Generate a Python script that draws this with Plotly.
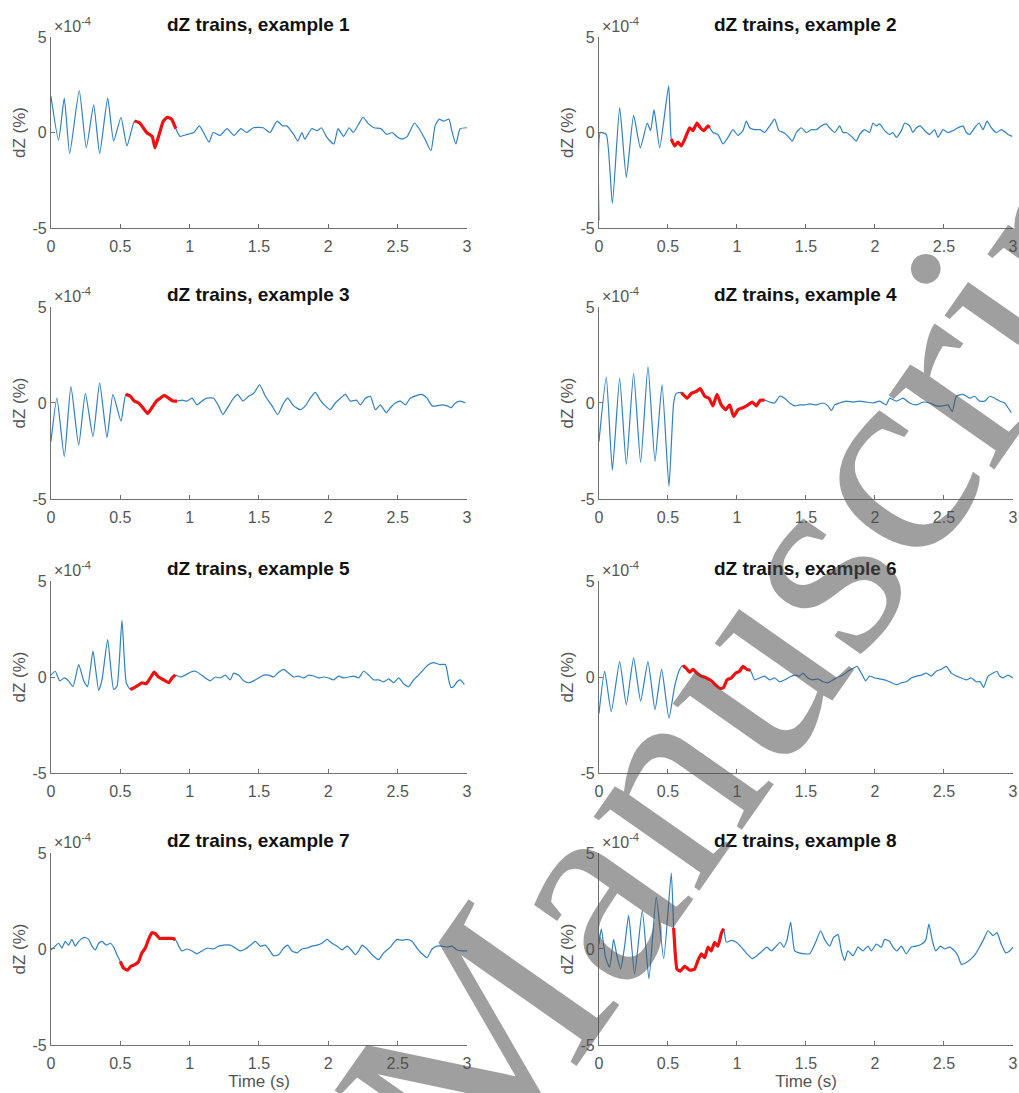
import plotly.graph_objects as go

# ---------------- data (dZ in units of 1e-4 %, time in s) ----------------
t1 = [0.000,0.055,0.096,0.135,0.204,0.255,0.308,0.351,0.409,0.452,0.505,0.548,0.603,0.64,0.69,0.73,0.75,0.78,0.81,0.84,0.87,0.90,
      0.93,0.98,1.03,1.07,1.10,1.14,1.17,1.22,1.27,1.32,1.37,1.41,1.46,1.53,1.58,1.63,1.67,1.70,1.75,1.78,1.81,1.83,1.88,1.92,
      1.95,1.99,2.04,2.07,2.11,2.15,2.18,2.22,2.25,2.29,2.33,2.38,2.42,2.46,2.50,2.53,2.57,2.62,2.65,2.69,2.74,2.77,2.80,2.83,
      2.87,2.89,2.92,2.95,3.00]
v1 = [1.9,-0.4,1.8,-1.1,2.2,-0.8,1.45,-1.1,1.8,-0.45,0.8,-0.7,0.6,0.5,0.0,-0.2,-0.8,-0.1,0.6,0.8,0.7,0.2,
      -0.2,-0.1,0.0,0.35,0.0,-0.5,0.0,-0.15,0.2,-0.15,0.2,0.0,0.25,0.25,0.0,0.6,0.35,0.35,-0.1,-0.45,0.0,-0.35,0.2,0.1,
      0.25,-0.25,-0.6,0.2,-0.2,0.25,0.0,0.45,0.8,0.45,0.25,0.2,-0.1,0.0,-0.25,-0.35,-0.2,0.5,0.25,-0.25,-0.95,0.35,0.7,0.6,
      0.7,0.1,-0.6,0.2,0.25]
win1 = (0.603, 0.90)

t2 = [0.0,0.01,0.053,0.097,0.150,0.198,0.251,0.300,0.350,0.374,0.399,0.440,0.505,0.524,
      0.548,0.572,0.597,0.633,0.657,0.681,0.710,0.734,0.761,0.790,0.802,
      0.826,0.862,0.899,0.935,0.971,1.007,1.043,1.068,1.092,1.128,1.169,1.200,1.237,1.273,1.304,1.338,1.370,1.401,1.430,1.466,
      1.502,1.539,1.575,1.611,1.647,1.671,1.708,1.744,1.768,1.792,1.829,1.865,1.889,1.925,1.961,1.986,2.010,2.034,2.070,2.106,
      2.130,2.155,2.191,2.215,2.251,2.275,2.300,2.329,2.360,2.396,2.432,2.457,2.493,2.529,2.565,2.601,2.638,2.662,2.686,2.722,
      2.754,2.783,2.812,2.843,2.879,2.915,2.964,2.995]
v2 = [-4.6,0.0,-0.1,-3.7,1.3,-2.35,0.9,-0.8,0.5,0.1,1.2,-0.8,2.45,-0.35,
      -0.7,-0.5,-0.7,-0.15,0.25,0.1,0.5,0.25,0.1,0.35,0.25,
      0,-0.1,-0.6,-0.25,0.15,-0.15,0.1,0.6,0.25,0.15,0.15,0,0.35,0.7,0.1,0,-0.2,-0.45,0,0.25,
      0,0.15,0.15,0.35,0.45,0.25,0,0.35,0,0,-0.2,-0.45,-0.1,0.15,0,0.5,0.35,0.45,0.1,-0.1,
      0,-0.25,0.1,0.5,0.35,0,0.25,0.35,0.1,-0.1,0.15,-0.25,0.15,0,0.1,0.25,0.35,0,-0.1,0.25,
      0.5,0.15,0.6,0.25,0,0.15,-0.1,-0.2]
win2 = (0.524, 0.802)

t3 = [0.0,0.043,0.096,0.144,0.200,0.248,0.303,0.351,0.404,0.447,0.505,
      0.540,0.572,0.601,0.632,0.663,0.697,0.728,0.760,0.788,0.817,0.849,0.880,0.909,
      0.945,0.981,1.017,1.053,1.089,1.125,1.173,1.209,1.240,1.281,1.317,1.346,1.385,1.425,1.462,1.505,1.546,1.594,1.635,1.678,
      1.707,1.750,1.798,1.834,1.870,1.906,1.942,1.978,2.014,2.050,2.087,2.123,2.159,2.202,2.231,2.267,2.303,2.339,2.375,2.418,
      2.447,2.483,2.519,2.555,2.591,2.639,2.675,2.712,2.748,2.784,2.820,2.856,2.885,2.916,2.952,2.988]
v3 = [-2.0,0.25,-2.8,0.85,-2.2,0.5,-1.75,1.05,-1.8,0.45,-0.95,
      0.45,0.35,0.1,0.0,-0.25,-0.55,-0.25,0.1,0.25,0.4,0.25,0.1,0.1,
      0.15,0.1,0.25,-0.1,0.1,0.25,0.25,-0.15,-0.6,-0.15,0.25,0.45,0.1,0.35,0.5,0.95,0.35,-0.15,-0.6,0,
      0.25,-0.15,-0.35,-0.15,0.25,0.55,0.15,-0.15,-0.35,0,0.25,0.45,0.1,0.15,-0.1,0.25,0.35,-0.35,-0.1,-0.5,
      -0.25,0,0.1,-0.1,0.25,0.4,0.45,0.25,-0.15,-0.15,-0.1,-0.15,-0.25,0,0.1,0]
win3 = (0.540, 0.909)

t4 = [0.0,0.053,0.097,0.150,0.198,0.251,0.302,0.355,0.406,0.457,0.507,0.541,0.560,0.597,
      0.609,0.638,0.669,0.705,0.734,0.766,0.797,0.826,0.855,0.886,0.918,0.947,0.976,1.007,1.043,1.080,1.111,1.140,1.169,1.200,
      1.237,1.273,1.309,1.345,1.382,1.418,1.454,1.490,1.527,1.575,1.623,1.659,1.684,1.708,1.744,1.792,1.841,1.889,1.937,1.986,
      2.034,2.082,2.106,2.155,2.203,2.251,2.300,2.348,2.396,2.444,2.493,2.529,2.560,2.589,2.638,2.686,2.722,2.758,2.795,2.831,
      2.867,2.903,2.940,2.964,2.988]
v4 = [-2.0,1.35,-3.5,1.3,-3.2,1.55,-3.1,1.9,-3.05,0.95,-4.35,0.0,0.5,0.55,
      0.45,0.25,0.5,0.6,0.75,0.35,0.25,-0.15,0.45,-0.1,-0.35,-0.1,-0.7,-0.35,-0.25,-0.1,0.05,-0.15,0.15,0.15,
      0.05,0,0.35,0.25,0,-0.15,-0.1,-0.1,-0.05,-0.1,0,-0.15,-0.4,-0.1,0,0.1,0.05,0.1,0.05,0,
      0.1,-0.1,0.25,0.1,0.25,0,-0.1,0.05,0,-0.15,-0.15,-0.1,-0.45,0.35,0.45,0.25,0.35,0.1,0.1,0.35,
      0.25,0.1,0,-0.25,-0.5]
win4 = (0.597, 1.200)

t5 = [0.0,0.031,0.063,0.096,0.127,0.159,0.200,0.236,0.264,0.303,0.344,0.368,0.409,0.452,0.476,0.512,0.543,0.572,
      0.601,0.625,0.656,0.687,0.716,0.745,0.776,0.813,0.849,0.873,0.897,
      0.933,0.969,1.005,1.041,1.077,1.113,1.149,1.185,1.221,1.257,1.293,1.317,1.353,1.389,1.425,1.462,1.498,1.534,1.570,1.606,
      1.642,1.678,1.714,1.750,1.786,1.822,1.858,1.894,1.930,1.966,2.002,2.038,2.075,2.111,2.147,2.183,2.219,2.255,2.291,2.327,
      2.363,2.399,2.435,2.471,2.507,2.543,2.579,2.615,2.651,2.688,2.724,2.760,2.803,2.844,2.868,2.885,2.904,2.928,2.952,2.981]
v5 = [0.1,0.3,-0.2,-0.05,-0.2,-0.5,0.65,-0.2,-0.5,1.35,-0.7,-0.15,1.95,-0.65,-0.5,2.95,-0.3,-0.65,
      -0.55,-0.45,-0.3,-0.35,-0.05,0.25,0,-0.15,-0.3,-0.05,0.1,
      0,0.1,0.25,0.3,0.15,-0.05,-0.2,0,-0.05,0.1,-0.15,0.2,0.1,-0.2,-0.3,-0.2,-0.05,0.1,0.1,0,
      0.25,0.4,0.2,0,0.05,-0.05,0.1,0.05,-0.05,0,-0.05,-0.15,0.05,-0.05,0,0.05,-0.05,0.3,0.1,-0.15,
      -0.15,-0.25,-0.1,-0.3,-0.05,-0.35,-0.5,-0.15,0.1,0.4,0.65,0.75,0.65,0.65,-0.15,-0.55,-0.5,-0.25,-0.15,-0.4]
win5 = (0.572, 0.897)

t6 = [0.0,0.041,0.089,0.150,0.198,0.251,0.302,0.355,0.406,0.454,0.507,0.548,0.585,
      0.609,0.633,0.657,0.681,0.710,0.742,0.778,0.814,0.850,0.879,0.903,0.928,0.959,0.990,1.019,1.043,1.072,1.097,
      1.128,1.164,1.200,1.237,1.273,1.309,1.345,1.382,1.418,1.454,1.478,1.514,1.551,1.587,1.623,1.659,1.696,1.732,1.768,1.804,
      1.841,1.870,1.901,1.932,1.961,1.998,2.034,2.070,2.106,2.155,2.191,2.227,2.263,2.300,2.336,2.372,2.408,2.444,2.481,2.517,
      2.553,2.589,2.626,2.662,2.698,2.734,2.763,2.787,2.819,2.855,2.884,2.903,2.928,2.964,3.0]
v6 = [-1.9,0.3,-1.8,0.8,-1.45,1.0,-1.25,0.8,-1.7,0.4,-2.15,-0.5,0.4,
      0.6,0.45,0.25,0.4,0.2,0.05,-0.05,-0.2,-0.45,-0.6,-0.55,-0.15,-0.05,0.2,0.3,0.55,0.4,0.35,
      -0.15,-0.05,0.05,-0.15,-0.05,-0.25,-0.15,0,0.1,0.05,0.2,-0.05,-0.15,-0.1,-0.25,-0.3,-0.15,0,0.1,0.3,
      0.45,0.55,0.2,-0.2,0.05,-0.05,-0.1,-0.15,-0.25,-0.4,-0.3,-0.25,-0.05,0.05,0.1,0.2,0.05,0.3,0.4,0.55,
      0.2,0.05,-0.05,-0.15,-0.05,-0.25,-0.25,-0.55,0.05,0.2,0.3,0.05,-0.05,0.1,-0.05]
win6 = (0.609, 1.097)

t7 = [0.0,0.031,0.055,0.079,0.103,0.127,0.151,0.175,0.200,0.224,0.248,0.272,0.296,0.320,0.344,0.368,0.399,0.428,0.452,0.476,0.500,
      0.524,0.553,0.577,0.608,0.632,0.656,0.680,0.704,0.728,0.752,0.784,0.813,0.844,0.873,0.897,
      0.921,0.945,0.981,1.017,1.053,1.089,1.125,1.173,1.209,1.245,1.293,1.329,1.365,1.401,1.438,1.474,1.510,1.546,1.570,1.606,
      1.642,1.678,1.707,1.738,1.774,1.810,1.846,1.882,1.918,1.954,1.990,2.026,2.063,2.099,2.135,2.171,2.195,2.219,2.243,2.279,
      2.315,2.363,2.399,2.447,2.495,2.531,2.567,2.603,2.639,2.675,2.712,2.748,2.784,2.820,2.856,2.892,2.928,2.964,3.0]
v7 = [-0.05,0.15,0.3,0.05,0.4,0.2,0.5,0.15,0.4,0.55,0.6,0.5,0.15,-0.05,0.3,0.4,0.2,0.3,0.1,-0.3,-0.65,
      -1.0,-1.1,-0.9,-0.8,-0.65,-0.2,0.05,0.5,0.85,0.8,0.55,0.55,0.55,0.55,0.5,
      0.15,-0.1,0,-0.1,-0.25,-0.1,0.05,0,0.15,0.2,0.2,0.05,-0.1,0,0.2,0.4,0.15,0.2,0,-0.35,
      -0.3,0.05,0.2,-0.1,-0.2,0,0.05,0.15,0.2,0.3,0.5,0.3,0.15,-0.05,0.15,-0.1,-0.3,-0.1,0.2,0,
      -0.3,-0.55,-0.2,0.1,0.5,0.45,0.5,0.4,0.05,-0.25,-0.45,0,0.15,0.15,0.1,0.15,-0.05,-0.1,-0.1]
win7 = (0.500, 0.897)

t8 = [0.0,0.017,0.048,0.077,0.106,0.130,0.157,0.186,0.215,0.258,0.314,0.362,0.415,0.469,0.524,0.541,
      0.553,0.565,0.589,0.621,0.657,0.693,0.717,0.742,0.766,0.790,0.814,0.838,0.862,0.886,0.903,
      0.923,0.959,0.995,1.031,1.072,1.111,1.145,1.184,1.217,1.249,1.285,1.314,1.338,1.362,1.389,1.418,1.449,1.490,1.527,1.570,
      1.606,1.635,1.671,1.700,1.732,1.756,1.780,1.804,1.841,1.877,1.913,1.949,1.973,2.010,2.046,2.070,2.106,2.130,2.159,2.191,
      2.227,2.263,2.300,2.336,2.367,2.391,2.415,2.440,2.473,2.505,2.541,2.577,2.601,2.626,2.662,2.698,2.729,2.758,2.787,2.819,
      2.855,2.884,2.915,2.947,2.976,3.0]
v8 = [0.25,1.05,-0.45,-0.95,0.5,-0.35,-1.05,0.15,1.75,-1.3,2.0,-1.55,2.7,-0.5,3.95,1.1,
      -0.25,-1.05,-1.15,-0.9,-1.1,-1.05,-0.6,-0.25,-0.45,0.1,-0.1,0.35,0.15,0.8,1.05,
      0.35,0.45,0.35,0.1,-0.25,-0.5,-0.35,-0.1,0.1,-0.1,0.15,0.35,0.1,0.45,1.4,-0.1,-0.2,-0.25,-0.25,0.35,
      0.95,0.5,0.15,0.6,0.75,-0.1,-0.6,-0.1,-0.35,0.1,-0.1,0.15,-0.1,0.25,0.1,0.5,0.4,0.1,-0.1,0.15,
      -0.25,0.1,0.15,0.25,0.45,1.3,0.45,-0.1,0.15,0,0.1,-0.1,-0.35,-0.8,-0.7,-0.5,-0.25,0.1,0.5,0.95,
      0.7,0.85,0.25,-0.2,-0.1,0.1]
win8 = (0.541, 0.903)

times = [t1, t2, t3, t4, t5, t6, t7, t8]
values = [v1, v2, v3, v4, v5, v6, v7, v8]
windows = [win1, win2, win3, win4, win5, win6, win7, win8]
titles = ["dZ trains, example %d" % i for i in range(1, 9)]

x_tickvals = [0, 0.5, 1, 1.5, 2, 2.5, 3]
x_ticktext = ["0", "0.5", "1", "1.5", "2", "2.5", "3"]
y_tickvals = [-5, 0, 5]
y_ticktext = ["-5", "0", "5"]
y_exponent = "\u00d710<sup>-4</sup>"
x_label = "Time (s)"
y_label = "dZ (%)"
watermark = "Manuscript"

# ---------------- layout geometry ----------------
W, H = 1019, 1093
col_dom = [[0.0500, 0.4583], [0.5878, 0.9941]]
row_dom = [[0.7914, 0.9661], [0.5435, 0.7191], [0.2928, 0.4684], [0.0439, 0.2196]]

BLUE = "#2f80c4"
RED = "#ee1111"
AX = "#707070"
TXT = "#555555"
FONT = "Liberation Sans, Arial, sans-serif"

fig = go.Figure()
layout = dict(width=W, height=H, margin=dict(l=0, r=0, t=0, b=0),
              paper_bgcolor="white", plot_bgcolor="white", showlegend=False,
              template="none", font=dict(family=FONT, color=TXT))
annotations = []

for i in range(8):
    r, c = divmod(i, 2)
    n = i + 1
    xa = "x" if n == 1 else "x%d" % n
    ya = "y" if n == 1 else "y%d" % n
    t, v = times[i], values[i]
    w0, w1 = windows[i]
    fig.add_trace(go.Scatter(x=t, y=v, mode="lines", xaxis=xa, yaxis=ya,
                             line=dict(color=BLUE, width=1.2, shape="spline", smoothing=0.5),
                             hoverinfo="skip"))
    rt = [a for a in t if w0 - 1e-9 <= a <= w1 + 1e-9]
    rv = [b for a, b in zip(t, v) if w0 - 1e-9 <= a <= w1 + 1e-9]
    fig.add_trace(go.Scatter(x=rt, y=rv, mode="lines", xaxis=xa, yaxis=ya,
                             line=dict(color=RED, width=3.2, shape="spline", smoothing=0.4),
                             hoverinfo="skip"))
    bottom = (r == 3)
    layout["xaxis" + ("" if n == 1 else str(n))] = dict(
        domain=col_dom[c], anchor=ya, range=[0, 3], showline=True, linecolor=AX, linewidth=1,
        ticks="inside", ticklen=4, tickcolor=AX, tickvals=x_tickvals, ticktext=x_ticktext,
        tickfont=dict(size=16, color=TXT, family=FONT), ticklabelstandoff=4,
        showgrid=False, zeroline=False, mirror=False, automargin=False,
        title=dict(text=x_label if bottom else "", font=dict(size=17, color=TXT, family=FONT), standoff=3))
    layout["yaxis" + ("" if n == 1 else str(n))] = dict(
        domain=row_dom[r], anchor=xa, range=[-5, 5], showline=True, linecolor=AX, linewidth=1,
        ticks="inside", ticklen=4, tickcolor=AX, tickvals=y_tickvals, ticktext=y_ticktext,
        tickfont=dict(size=16, color=TXT, family=FONT), showgrid=False, zeroline=False,
        mirror=False, automargin=False,
        title=dict(text=y_label, font=dict(size=17, color=TXT, family=FONT), standoff=2))
    annotations.append(dict(text="<b>%s</b>" % titles[i], xref=xa + " domain", yref=ya + " domain",
                            x=0.5, y=1, xanchor="center", yanchor="bottom", yshift=0, showarrow=False,
                            font=dict(size=19, color="#111111", family=FONT)))
    annotations.append(dict(text=y_exponent, xref=xa + " domain", yref=ya + " domain",
                            x=0, y=1, xanchor="left", yanchor="bottom", xshift=1, yshift=0, showarrow=False,
                            font=dict(size=16, color=TXT, family=FONT)))

annotations.append(dict(text=watermark, xref="paper", yref="paper", x=770 / W, y=1 - 624 / H,
                        xanchor="center", yanchor="middle", textangle=-55, showarrow=False,
                        font=dict(size=281, color="rgba(80,80,80,0.55)",
                                  family="Liberation Serif, Times New Roman, serif")))
layout["annotations"] = annotations
fig.update_layout(**layout)
fig.write_html("out.html")
